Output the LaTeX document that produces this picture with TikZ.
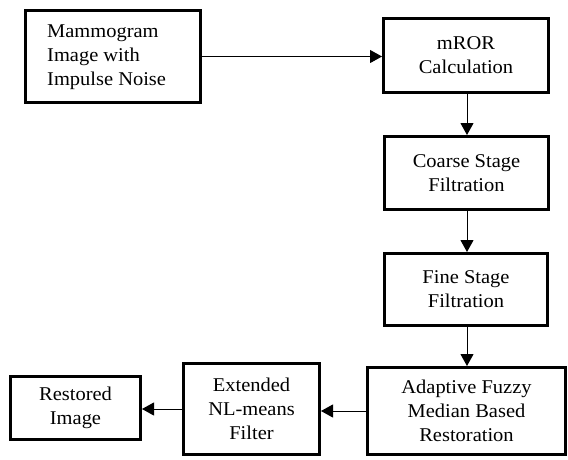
\documentclass[tikz,border=0pt]{standalone}
\usepackage{fontspec}
\setmainfont{Liberation Serif}[FakeStretch=1.05]
\usetikzlibrary{arrows.meta}
\begin{document}
\begin{tikzpicture}[x=1pt,y=-1pt,
  box/.style={draw=black,line width=3pt,rectangle,inner sep=0pt,
    font=\fontsize{19.5}{24}\selectfont,align=center},
  conn/.style={line width=1pt,-{Triangle[length=12pt,width=13pt]}}]
\useasboundingbox (0,0) rectangle (568,459);
\node[box,minimum width=175pt,minimum height=92pt] (b1) at (113,56.5) {};
\node[font=\fontsize{19.5}{24}\selectfont,align=left,anchor=west,inner sep=0pt] (t1) at (47,57.5) {Mammogram\\Image with\\Impulse Noise};
\node[box,minimum width=165pt,minimum height=74pt] (b2) at (466,55.5) {mROR\\Calculation};
\node[box,minimum width=164pt,minimum height=73pt] (b3) at (466.5,173) {Coarse Stage\\Filtration};
\node[box,minimum width=163pt,minimum height=72pt] (b4) at (466,289.5) {Fine Stage\\Filtration};
\node[box,minimum width=198pt,minimum height=87pt] (b5) at (466.5,411) {Adaptive Fuzzy\\Median Based\\Restoration};
\node[box,minimum width=136pt,minimum height=91pt] (b6) at (251.5,409) {Extended\\NL-means\\Filter};
\node[box,minimum width=130pt,minimum height=63pt] (b7) at (75.5,408) {Restored\\Image};
\draw[conn] (b1.east) -- (b1.east -| b2.west);
\draw[conn] (b2.south -| 467,0) -- (b3.north -| 467,0);
\draw[conn] (b3.south -| 467,0) -- (b4.north -| 467,0);
\draw[conn] (b4.south -| 467,0) -- (b5.north -| 467,0);
\draw[conn] (b5.west) -- (b5.west -| b6.east);
\draw[conn] (b6.west) -- (b6.west -| b7.east);
\end{tikzpicture}
\end{document}
